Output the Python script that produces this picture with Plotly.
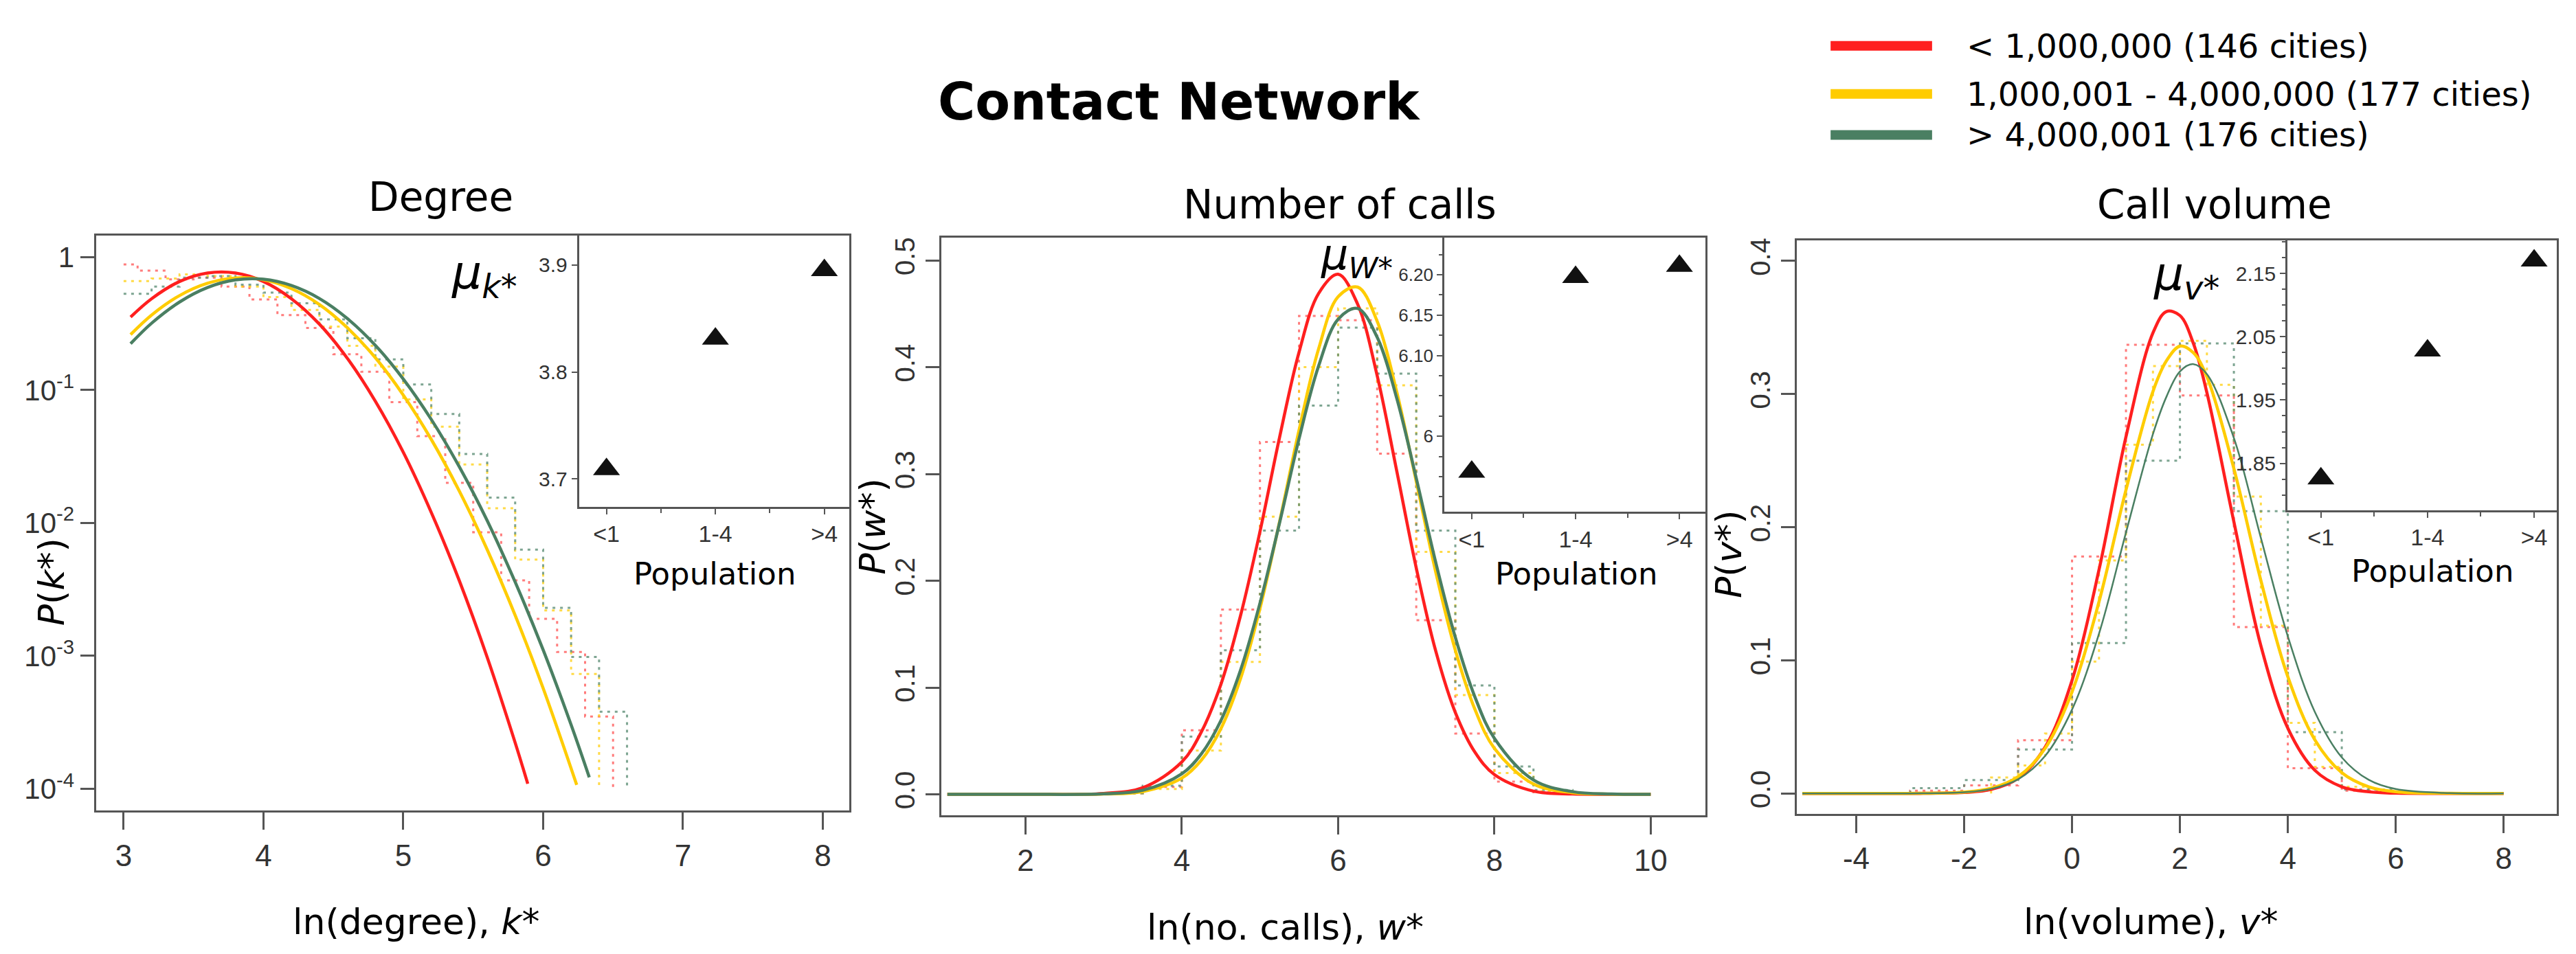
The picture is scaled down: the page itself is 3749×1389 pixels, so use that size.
import plotly.graph_objects as go

# groups of cities (legend)
group_names = ["< 1,000,000 (146 cities)", "1,000,001 - 4,000,000 (177 cities)", "> 4,000,001 (176 cities)"]
line_colors = ["#FF1F1F", "#FFCC00", "#4A7F62"]
dot_colors = ["#FF5C5C", "#FFD21A", "#5E8F77"]
pop_labels = ["<1", "1-4", ">4"]

# ---- Degree panel (log y) ----
deg_fit_x_red = [3.05, 3.2, 3.4, 3.6, 3.8, 4.0, 4.2, 4.4, 4.6, 4.8, 5.0, 5.2, 5.4, 5.6, 5.8, 5.89]
deg_fit_red = [0.354, 0.486, 0.655, 0.759, 0.759, 0.655, 0.486, 0.313, 0.173, 0.0824, 0.0340, 0.0120,
               0.00369, 0.000975, 0.000222, 0.000109]
deg_fit_x_yel = [3.05, 3.2, 3.4, 3.6, 3.8, 4.0, 4.2, 4.4, 4.6, 4.8, 5.0, 5.2, 5.4, 5.6, 5.8, 6.0, 6.24]
deg_fit_yel = [0.261, 0.366, 0.513, 0.635, 0.697, 0.676, 0.579, 0.440, 0.294, 0.175, 0.0916, 0.0425,
               0.0174, 0.00630, 0.00202, 0.000571, 0.000107]
deg_fit_x_grn = [3.05, 3.2, 3.4, 3.6, 3.8, 4.0, 4.2, 4.4, 4.6, 4.8, 5.0, 5.2, 5.4, 5.6, 5.8, 6.0, 6.2, 6.33]
deg_fit_grn = [0.223, 0.318, 0.459, 0.590, 0.673, 0.681, 0.611, 0.488, 0.345, 0.217, 0.121, 0.0601,
               0.0265, 0.0104, 0.00359, 0.00111, 0.000303, 0.000122]

deg_edges_red = [3.0, 3.1, 3.3, 3.5, 3.7, 3.9, 4.1, 4.3, 4.5, 4.7, 4.9, 5.1, 5.3, 5.5, 5.7, 5.9, 6.1, 6.3, 6.5]
deg_hist_red = [0.88, 0.79, 0.68, 0.70, 0.60, 0.48, 0.366, 0.293, 0.186, 0.137, 0.081, 0.045, 0.020,
                0.0085, 0.0037, 0.0019, 0.00107, 0.00035]
deg_edges_yel = [3.0, 3.2, 3.4, 3.6, 3.8, 4.0, 4.2, 4.4, 4.6, 4.8, 5.0, 5.2, 5.4, 5.6, 5.8, 6.0, 6.2, 6.4]
deg_hist_yel = [0.66, 0.69, 0.74, 0.72, 0.60, 0.50, 0.40, 0.30, 0.215, 0.15, 0.085, 0.053, 0.0275,
                0.0129, 0.0053, 0.0022, 0.00073]
deg_edges_grn = [3.0, 3.2, 3.4, 3.6, 3.8, 4.0, 4.2, 4.4, 4.6, 4.8, 5.0, 5.2, 5.4, 5.6, 5.8, 6.0, 6.2, 6.4, 6.6]
deg_hist_grn = [0.53, 0.60, 0.70, 0.72, 0.62, 0.54, 0.45, 0.34, 0.245, 0.17, 0.110, 0.066, 0.033,
                0.0155, 0.0063, 0.0023, 0.00098, 0.00038]
deg_ticks = [1, 0.1, 0.01, 0.001, 0.0001]
deg_ticktext = ["1", "10<sup>-1</sup>", "10<sup>-2</sup>", "10<sup>-3</sup>", "10<sup>-4</sup>"]
mu_k = [3.709, 3.831, 3.895]

# ---- Number of calls panel ----
calls_fit_x = [1, 2, 3, 3.5, 4, 4.25, 4.5, 4.75, 5, 5.25, 5.5, 5.75, 6, 6.25, 6.5, 6.75, 7, 7.25, 7.5,
               7.75, 8, 8.5, 9, 9.5, 10]
calls_fit_red = [0.0, 0.0, 0.0009, 0.0062, 0.0303, 0.0584, 0.103, 0.167, 0.246, 0.334, 0.414, 0.469,
                 0.487, 0.459, 0.392, 0.303, 0.212, 0.134, 0.0767, 0.0396, 0.0185, 0.0030, 0.0003, 0.0, 0.0]
calls_fit_yel = [0.0, 0.0, 0.0003, 0.0026, 0.0152, 0.032, 0.0615, 0.108, 0.174, 0.255, 0.341, 0.417,
                 0.466, 0.475, 0.443, 0.377, 0.293, 0.208, 0.135, 0.0797, 0.0431, 0.0096, 0.0015, 0.0002, 0.0]
calls_fit_grn = [0.0, 0.0, 0.0005, 0.0038, 0.0192, 0.0379, 0.0691, 0.116, 0.179, 0.254, 0.333, 0.401,
                 0.445, 0.455, 0.428, 0.371, 0.296, 0.217, 0.147, 0.0913, 0.0524, 0.0134, 0.0025, 0.0003, 0.0]
calls_edges = [3.0, 3.5, 4.0, 4.5, 5.0, 5.5, 6.0, 6.5, 7.0, 7.5, 8.0, 8.5, 9.0]
calls_hist_red = [0.001, 0.007, 0.060, 0.173, 0.330, 0.448, 0.444, 0.319, 0.163, 0.057, 0.012, 0.002]
calls_hist_yel = [0.001, 0.005, 0.041, 0.124, 0.260, 0.400, 0.455, 0.383, 0.227, 0.093, 0.020, 0.003]
calls_hist_grn = [0.001, 0.008, 0.054, 0.135, 0.247, 0.364, 0.437, 0.394, 0.247, 0.102, 0.026, 0.004]
mu_w = [5.956, 6.197, 6.211]

# ---- Call volume panel ----
vol_fit_x = [-5, -4, -3, -2, -1.5, -1, -0.5, 0, 0.5, 1, 1.5, 1.75, 2, 2.25, 2.5, 3, 3.5, 4, 4.5, 5,
             5.5, 6, 7, 8]
vol_fit_red = [0.0, 0.0, 0.0, 0.0007, 0.0030, 0.0114, 0.0347, 0.0849, 0.168, 0.268, 0.346, 0.362,
               0.359, 0.338, 0.301, 0.204, 0.111, 0.049, 0.0174, 0.0050, 0.0012, 0.0002, 0.0, 0.0]
vol_fit_yel = [0.0, 0.0, 0.0, 0.0010, 0.0039, 0.0126, 0.0338, 0.0763, 0.144, 0.228, 0.302, 0.325,
               0.336, 0.331, 0.313, 0.244, 0.160, 0.0877, 0.0403, 0.0156, 0.0050, 0.0013, 0.0001, 0.0]
vol_fit_grn = [0.0, 0.0, 0.0, 0.0009, 0.0034, 0.0106, 0.0281, 0.0630, 0.120, 0.196, 0.270, 0.298,
               0.317, 0.3225, 0.315, 0.267, 0.192, 0.118, 0.0613, 0.0271, 0.0102, 0.0033, 0.0002, 0.0]
vol_edges_int = [-3, -2, -1, 0, 1, 2, 3, 4, 5, 6]
vol_hist_red = [0.002, 0.006, 0.040, 0.178, 0.337, 0.299, 0.125, 0.019, 0.002]
vol_hist_grn = [0.004, 0.010, 0.033, 0.113, 0.250, 0.338, 0.212, 0.046, 0.003]
vol_edges_half = [-1.5, -1.0, -0.5, 0, 0.5, 1.0, 1.5, 2.0, 2.5, 3.0, 3.5, 4.0, 4.5, 5.0, 5.5]
vol_hist_yel = [0.012, 0.021, 0.045, 0.099, 0.175, 0.262, 0.321, 0.340, 0.307, 0.223, 0.126, 0.053, 0.020, 0.005]
vol_ticks = [-4, -2, 0, 2, 4, 6, 8]
mu_v = [1.826, 2.028, 2.170]


def step_xy(edges, heights, floor, start_floor=True):
    """Outline of a histogram as a step line."""
    xs = list(edges) + [edges[-1]]
    ys = list(heights) + [heights[-1], floor]
    if start_floor:
        xs = [edges[0]] + xs
        ys = [floor] + ys
    return xs, ys


fig = go.Figure()

panels = [
    ("x", "y", 0.0001, False,
     [(deg_edges_red, deg_hist_red), (deg_edges_yel, deg_hist_yel), (deg_edges_grn, deg_hist_grn)],
     [(deg_fit_x_red, deg_fit_red), (deg_fit_x_yel, deg_fit_yel), (deg_fit_x_grn, deg_fit_grn)],
     [4.5, 4.5, 4.5]),
    ("x2", "y2", 0.0, True,
     [(calls_edges, calls_hist_red), (calls_edges, calls_hist_yel), (calls_edges, calls_hist_grn)],
     [(calls_fit_x, calls_fit_red), (calls_fit_x, calls_fit_yel), (calls_fit_x, calls_fit_grn)],
     [4.5, 4.5, 4.5]),
    ("x3", "y3", 0.0, True,
     [(vol_edges_int, vol_hist_red), (vol_edges_half, vol_hist_yel), (vol_edges_int, vol_hist_grn)],
     [(vol_fit_x, vol_fit_red), (vol_fit_x, vol_fit_yel), (vol_fit_x, vol_fit_grn)],
     [4.5, 4.5, 2.5]),
]

for xa, ya, floor, start_floor, hists, fits, widths in panels:
    for i, (edges, heights) in enumerate(hists):
        hx, hy = step_xy(edges, heights, floor, start_floor)
        fig.add_trace(go.Scatter(
            x=hx, y=hy, mode="lines", line=dict(color=dot_colors[i], width=3, dash="4px,7px", shape="hv"),
            opacity=0.8, xaxis=xa, yaxis=ya, showlegend=False, hoverinfo="skip"))
    for i, (fx, fy) in enumerate(fits):
        fig.add_trace(go.Scatter(
            x=fx, y=fy, mode="lines", line=dict(color=line_colors[i], width=widths[i], shape="spline"),
            xaxis=xa, yaxis=ya, name=group_names[i], showlegend=False))

# insets with mean values
pop_pos = list(range(len(pop_labels)))
for xa, ya, vals in [("x4", "y4", mu_k), ("x5", "y5", mu_w), ("x6", "y6", mu_v)]:
    fig.add_trace(go.Scatter(
        x=pop_pos, y=vals, mode="markers", xaxis=xa, yaxis=ya, showlegend=False,
        marker=dict(symbol="triangle-up", size=34, color="#111111")))

axis_col = "#555555"
tick_font = dict(family="Liberation Sans Narrow, Liberation Sans, Arial", size=44, color="#333333")
inset_font = dict(family="Liberation Sans, Arial", size=32, color="#333333")

main = dict(showline=True, mirror=True, linecolor=axis_col, linewidth=3, ticks="outside",
            tickcolor=axis_col, tickwidth=3, showgrid=False, zeroline=False, tickfont=tick_font)
inset = dict(showline=True, mirror=True, linecolor=axis_col, linewidth=2.5, ticks="outside",
             tickcolor=axis_col, tickwidth=2, ticklen=8, showgrid=False, zeroline=False, tickfont=inset_font)
inset_x = dict(inset, tickvals=pop_pos, ticktext=pop_labels, tickfont=dict(inset_font, size=34),
               minor=dict(ticks="outside", tick0=0, dtick=0.5, ticklen=6, tickcolor=axis_col))

fig.update_layout(
    width=3749, height=1389,
    margin=dict(l=0, r=0, t=0, b=0),
    plot_bgcolor="white", paper_bgcolor="white",
    showlegend=False,
    font=dict(family="DejaVu Sans", color="black"),
    xaxis=dict(main, domain=[0.0351, 0.3276], range=[2.802, 8.19], tickvals=[3, 4, 5, 6, 7, 8],
               ticklen=25, anchor="y"),
    yaxis=dict(main, domain=[0.1564, 0.7612], type="log", range=[-4.165, 0.163], tickvals=deg_ticks,
               ticktext=deg_ticktext, ticklen=20, anchor="x", tickfont=dict(tick_font, size=42)),
    xaxis2=dict(main, domain=[0.3633, 0.6599], range=[0.923, 10.70], tickvals=[2, 4, 6, 8, 10],
                ticklen=25, anchor="y2"),
    yaxis2=dict(main, domain=[0.1515, 0.7585], range=[-0.0197, 0.521], tickvals=[0, 0.1, 0.2, 0.3, 0.4, 0.5],
                ticktext=["0.0", "0.1", "0.2", "0.3", "0.4", "0.5"], tickangle=-90, ticklen=20,
                anchor="x2", tickfont=dict(tick_font, size=40)),
    xaxis3=dict(main, domain=[0.6955, 0.9903], range=[-5.096, 8.98], tickvals=vol_ticks,
                ticktext=[str(t) for t in vol_ticks], ticklen=25, anchor="y3"),
    yaxis3=dict(main, domain=[0.1533, 0.7559], range=[-0.0152, 0.4154], tickvals=[0, 0.1, 0.2, 0.3, 0.4],
                ticktext=["0.0", "0.1", "0.2", "0.3", "0.4"], tickangle=-90, ticklen=20,
                anchor="x3", tickfont=dict(tick_font, size=40)),
    xaxis4=dict(inset_x, domain=[0.2226, 0.3276], range=[-0.253, 2.23], anchor="y4"),
    yaxis4=dict(inset, domain=[0.4759, 0.7612], range=[3.674, 3.9276], tickvals=[3.7, 3.8, 3.9],
                anchor="x4", tickfont=dict(inset_font, size=30)),
    xaxis5=dict(inset_x, domain=[0.5585, 0.6599], range=[-0.265, 2.25], anchor="y5"),
    yaxis5=dict(inset, domain=[0.4706, 0.7585], range=[5.9064, 6.2456], tickvals=[6, 6.1, 6.15, 6.2],
                ticktext=["6", "6.10", "6.15", "6.20"], anchor="x5", tickfont=dict(inset_font, size=26),
                minor=dict(ticks="outside", dtick=0.025, ticklen=5, tickcolor=axis_col)),
    xaxis6=dict(inset_x, domain=[0.8858, 0.9903], range=[-0.315, 2.21], anchor="y6"),
    yaxis6=dict(inset, domain=[0.4723, 0.7559], range=[1.776, 2.202], tickvals=[1.85, 1.95, 2.05, 2.15],
                ticktext=["1.85", "1.95", "2.05", "2.15"], anchor="x6", tickfont=dict(inset_font, size=30),
                minor=dict(ticks="outside", dtick=0.025, ticklen=5, tickcolor=axis_col)),
)

annotations = [
    dict(text="<b>Contact Network</b>", x=0.4555, y=0.902, font=dict(size=74)),
    dict(text="Degree", x=0.1691, y=0.8013, font=dict(size=58)),
    dict(text="Number of calls", x=0.518, y=0.7934, font=dict(size=58)),
    dict(text="Call volume", x=0.8576, y=0.7937, font=dict(size=58)),
    dict(text="ln(degree), <i>k*</i>", x=0.1595, y=0.04, font=dict(size=52)),
    dict(text="ln(no. calls), <i>w*</i>", x=0.4967, y=0.034, font=dict(size=52)),
    dict(text="ln(volume), <i>v*</i>", x=0.8327, y=0.04, font=dict(size=52)),
    dict(text="<i>P</i>(<i>k*</i>)", x=0.0179, y=0.397, textangle=-90, font=dict(size=52)),
    dict(text="<i>P</i>(<i>w*</i>)", x=0.3366, y=0.455, textangle=-90, font=dict(size=52)),
    dict(text="<i>P</i>(<i>v*</i>)", x=0.669, y=0.426, textangle=-90, font=dict(size=52)),
    dict(text="<i>μ<sub>k*</sub></i>", x=0.186, y=0.7192, font=dict(size=68)),
    dict(text="<i>μ<sub>W*</sub></i>", x=0.5245, y=0.7383, font=dict(size=62)),
    dict(text="<i>μ<sub>v*</sub></i>", x=0.8465, y=0.7178, font=dict(size=68)),
    dict(text="Population", x=0.2753, y=0.4053, font=dict(size=45)),
    dict(text="Population", x=0.6098, y=0.4053, font=dict(size=45)),
    dict(text="Population", x=0.9421, y=0.4086, font=dict(size=45)),
]
for a in annotations:
    fig.add_annotation(a, xref="paper", yref="paper", showarrow=False, xanchor="center", yanchor="middle")

# legend drawn by hand so the line samples can be long and thick
legend_y = [0.9604, 0.91, 0.8668]
for i, name in enumerate(group_names):
    fig.add_shape(type="line", xref="paper", yref="paper", x0=0.7085, x1=0.7479, y0=legend_y[i], y1=legend_y[i],
                  line=dict(color=line_colors[i], width=14))
    fig.add_annotation(text=name, xref="paper", yref="paper", x=0.7607, y=legend_y[i], showarrow=False,
                       xanchor="left", yanchor="middle", font=dict(size=48))

fig.write_html("out.html")
